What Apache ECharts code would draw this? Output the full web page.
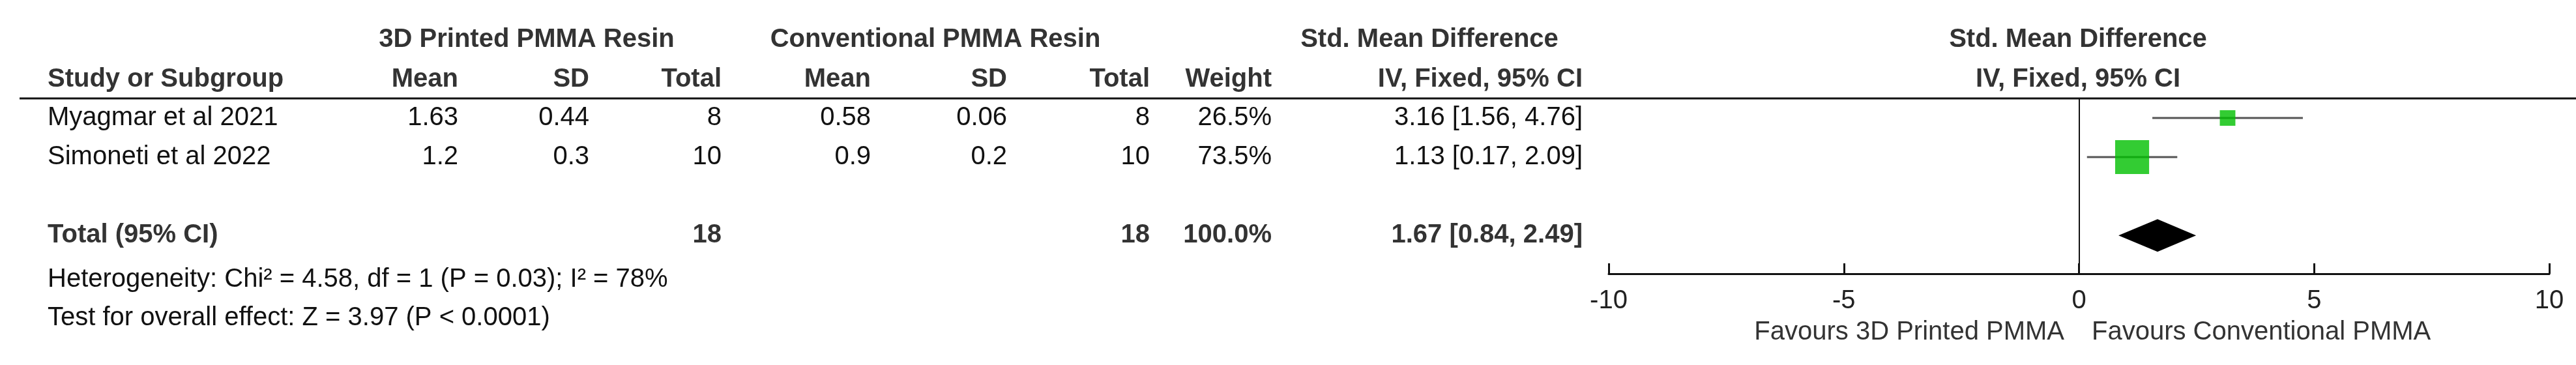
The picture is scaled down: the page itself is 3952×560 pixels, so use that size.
<!DOCTYPE html>
<html>
<head>
<meta charset="utf-8">
<script src="https://cdn.jsdelivr.net/npm/echarts@6/dist/echarts.min.js"></script>
<style>html,body{margin:0;padding:0;background:#fff}#chart{width:3952px;height:560px}</style>
</head>
<body>
<div id="chart"></div>
<script>
const studies = ['Myagmar et al 2021', 'Simoneti et al 2022'];
const expMean = ['1.63', '1.2'];
const expSD = ['0.44', '0.3'];
const expTotal = ['8', '10'];
const ctlMean = ['0.58', '0.9'];
const ctlSD = ['0.06', '0.2'];
const ctlTotal = ['8', '10'];
const weights = [26.5, 73.5];
const smd = [3.16, 1.13];
const ciLow = [1.56, 0.17];
const ciHigh = [4.76, 2.09];
const total = {n1: '18', n2: '18', weight: '100.0%', smd: 1.67, low: 0.84, high: 2.49};
const rows = [0, 1];
const totalRow = 3;
const footer = ['Heterogeneity: Chi\u00b2 = 4.58, df = 1 (P = 0.03); I\u00b2 = 78%', 'Test for overall effect: Z = 3.97 (P < 0.0001)'];

(function(){
    let myChart = echarts.init(document.getElementById('chart'));
    const F = '"Liberation Sans", Arial, sans-serif';
    const rowY = r => 181 + 60 * r;
    let g = [];
    function txt(x, y, s, align, bold) {
        g.push({type: 'text', x: x, y: y, style: {text: s, fill: bold ? '#333' : '#111',
            font: (bold ? 'bold ' : '') + '40px ' + F, textAlign: align || 'left', textVerticalAlign: 'middle'}});
    }
    // headers
    txt(808, 61, '3D Printed PMMA Resin', 'center', true);
    txt(1435, 61, 'Conventional PMMA Resin', 'center', true);
    txt(2193, 61, 'Std. Mean Difference', 'center', true);
    txt(3188, 61, 'Std. Mean Difference', 'center', true);
    txt(73, 122, 'Study or Subgroup', 'left', true);
    const cols = [703, 904, 1107, 1336, 1545, 1764, 1951, 2428];
    ['Mean', 'SD', 'Total', 'Mean', 'SD', 'Total', 'Weight', 'IV, Fixed, 95% CI'].forEach((h, i) => txt(cols[i], 122, h, 'right', true));
    txt(3188, 122, 'IV, Fixed, 95% CI', 'center', true);
    g.push({type: 'line', shape: {x1: 30, y1: 151, x2: 3952, y2: 151}, style: {stroke: '#111', lineWidth: 3}});
    rows.forEach(i => {
        const y = rowY(rows[i]);
        txt(73, y, studies[i]);
        [expMean[i], expSD[i], expTotal[i], ctlMean[i], ctlSD[i], ctlTotal[i], weights[i].toFixed(1) + '%',
         smd[i].toFixed(2) + ' [' + ciLow[i].toFixed(2) + ', ' + ciHigh[i].toFixed(2) + ']'].forEach((v, k) => txt(cols[k], y, v, 'right'));
    });
    const ty = rowY(totalRow);
    txt(73, ty, 'Total (95% CI)', 'left', true);
    txt(cols[2], ty, total.n1, 'right', true);
    txt(cols[5], ty, total.n2, 'right', true);
    txt(cols[6], ty, total.weight, 'right', true);
    txt(cols[7], ty, total.smd.toFixed(2) + ' [' + total.low.toFixed(2) + ', ' + total.high.toFixed(2) + ']', 'right', true);
    txt(73, 429, footer[0]);
    txt(73, 488, footer[1]);
    g.push({type: 'text', x: 3167, y: 510, style: {text: 'Favours 3D Printed PMMA', fill: '#333', font: '40px ' + F, textAlign: 'right', textVerticalAlign: 'middle'}});
    g.push({type: 'text', x: 3209, y: 510, style: {text: 'Favours Conventional PMMA', fill: '#333', font: '40px ' + F, textAlign: 'left', textVerticalAlign: 'middle'}});

    let options = {
        animation: false,
        grid: {left: 2468, right: 41, top: 151, bottom: 140},
        xAxis: {
            type: 'value', min: -10, max: 10, interval: 5, position: 'bottom',
            axisLine: {onZero: false, lineStyle: {color: '#111', width: 3}},
            axisTick: {inside: true, length: 16, lineStyle: {color: '#111', width: 3}},
            axisLabel: {fontSize: 40, fontFamily: F, color: '#222', margin: 22},
            splitLine: {show: false}
        },
        yAxis: {type: 'value', min: -0.5, max: 3.98, inverse: true, show: false},
        graphic: g,
        series: [{
            type: 'custom',
            data: rows.map(i => [ciLow[i], ciHigh[i], rows[i]]),
            renderItem: (p, api) => {
                const a = api.coord([api.value(0), api.value(2)]);
                const b = api.coord([api.value(1), api.value(2)]);
                return {type: 'line', shape: {x1: a[0], y1: a[1], x2: b[0], y2: b[1]}, style: {stroke: '#555', lineWidth: 3}};
            },
            markLine: {
                silent: true, symbol: 'none', label: {show: false},
                lineStyle: {color: '#111', width: 2, type: 'solid'},
                data: [{xAxis: 0}]
            },
            z: 2
        }, {
            type: 'scatter',
            symbol: 'rect',
            data: rows.map(i => [smd[i], rows[i], weights[i]]),
            symbolSize: v => 8 + v[2] * 0.6,
            itemStyle: {color: '#00bf00'},
            z: 3
        }, {
            type: 'custom',
            data: [[total.low, total.smd, total.high, totalRow]],
            renderItem: (p, api) => {
                const l = api.coord([api.value(0), api.value(3)]);
                const c = api.coord([api.value(1), api.value(3)]);
                const r = api.coord([api.value(2), api.value(3)]);
                return {type: 'polygon', shape: {points: [[l[0], l[1]], [c[0], l[1] - 25], [r[0], l[1]], [c[0], l[1] + 25]]}, style: {fill: '#000'}};
            },
            z: 3
        }]
    };
    myChart.setOption(options);
})();
</script>
</body>
</html>
